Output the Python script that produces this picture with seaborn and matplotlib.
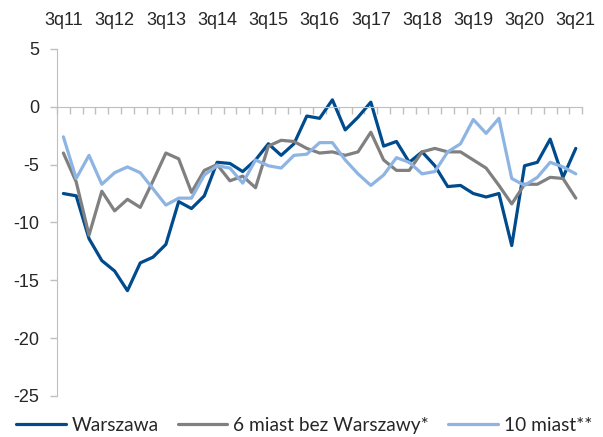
import numpy as np
import pandas as pd
import matplotlib
matplotlib.use("Agg")
import matplotlib.pyplot as plt
import seaborn as sns

# ---- Data (quarterly, 3q11 .. 3q21) ----
quarters = [f"{q}q{y:02d}" for y in range(11, 22) for q in (1, 2, 3, 4)]
quarters = quarters[2:2 + 41]
tick_labels = ["3q11", "3q12", "3q13", "3q14", "3q15", "3q16",
               "3q17", "3q18", "3q19", "3q20", "3q21"]

warszawa = [-7.5, -7.7, -11.4, -13.3, -14.2, -15.9, -13.5, -13.0, -11.9, -8.2,
            -8.8, -7.7, -4.8, -4.9, -5.6, -4.6, -3.2, -4.2, -3.2, -0.8,
            -1.0, 0.6, -2.0, -0.9, 0.4, -3.4, -3.0, -4.8, -3.9, -5.1,
            -6.9, -6.8, -7.5, -7.8, -7.5, -12.0, -5.1, -4.8, -2.8, -6.1,
            -3.6]
miast6 = [-4.0, -6.5, -11.1, -7.3, -9.0, -8.0, -8.7, -6.4, -4.0, -4.5,
          -7.4, -5.5, -5.0, -6.4, -6.0, -7.0, -3.4, -2.9, -3.0, -3.6,
          -4.0, -3.9, -4.2, -3.9, -2.2, -4.6, -5.5, -5.5, -3.9, -3.6,
          -3.9, -3.9, -4.6, -5.3, -6.8, -8.4, -6.7, -6.7, -6.1, -6.2,
          -7.9]
miast10 = [-2.6, -6.2, -4.2, -6.7, -5.7, -5.2, -5.7, -7.1, -8.5, -7.9,
           -7.9, -5.9, -5.1, -5.3, -6.6, -4.6, -5.1, -5.3, -4.2, -4.1,
           -3.1, -3.1, -4.6, -5.8, -6.8, -5.9, -4.4, -4.8, -5.8, -5.6,
           -3.9, -3.2, -1.1, -2.3, -1.0, -6.2, -6.8, -6.1, -4.8, -5.2,
           -5.8]

series_names = ["Warszawa", "6 miast bez Warszawy*", "10 miast**"]
colors = ["#004B8D", "#808080", "#8EB4E3"]

df = pd.DataFrame({
    "idx": list(range(len(quarters))) * 3,
    "value": warszawa + miast6 + miast10,
    "series": np.repeat(series_names, len(quarters)),
})

# ---- Plot ----
sns.set_style("white")
plt.rcParams["font.family"] = ["Liberation Sans", "DejaVu Sans"]

fig = plt.figure(figsize=(6.03, 4.37), dpi=100)
ax = fig.add_axes([0.0945, 0.094, 0.871, 0.794])

sns.lineplot(data=df, x="idx", y="value", hue="series", hue_order=series_names,
             palette=colors, linewidth=2.3, ax=ax)

ax.set_xlim(-0.5, len(quarters) - 0.5)
ax.set_ylim(-25, 5)
ax.set_yticks(range(-25, 6, 5))
ax.set_yticklabels([str(v) for v in range(-25, 6, 5)])

lab_pos = [quarters.index(t) for t in tick_labels]
ax.set_xticks(lab_pos)
ax.set_xticklabels(tick_labels)
ax.set_xticks(np.arange(-0.5, len(quarters), 1), minor=True)
ax.tick_params(axis="x", which="major", bottom=False, top=False,
               labelbottom=False, labeltop=True, pad=11, labelsize=13)
ax.tick_params(axis="x", which="minor", bottom=True, length=5,
               width=1, color="#BFBFBF", direction="out")
ax.tick_params(axis="y", left=True, length=5, width=1, color="#BFBFBF",
               pad=8, labelsize=13)

for side in ["top", "right"]:
    ax.spines[side].set_visible(False)
ax.spines["bottom"].set_position(("data", 0))
ax.spines["bottom"].set_color("#BFBFBF")
ax.spines["left"].set_color("#BFBFBF")
ax.set_xlabel("")
ax.set_ylabel("")

ax.legend(loc="center", bbox_to_anchor=(0.47, -0.084), ncol=3,
          frameon=False, handlelength=2.6, handletextpad=0.3,
          columnspacing=1.0, prop={"family": ["Lato", "DejaVu Sans"], "size": 13.8})

fig.savefig("out.png", dpi=100)
